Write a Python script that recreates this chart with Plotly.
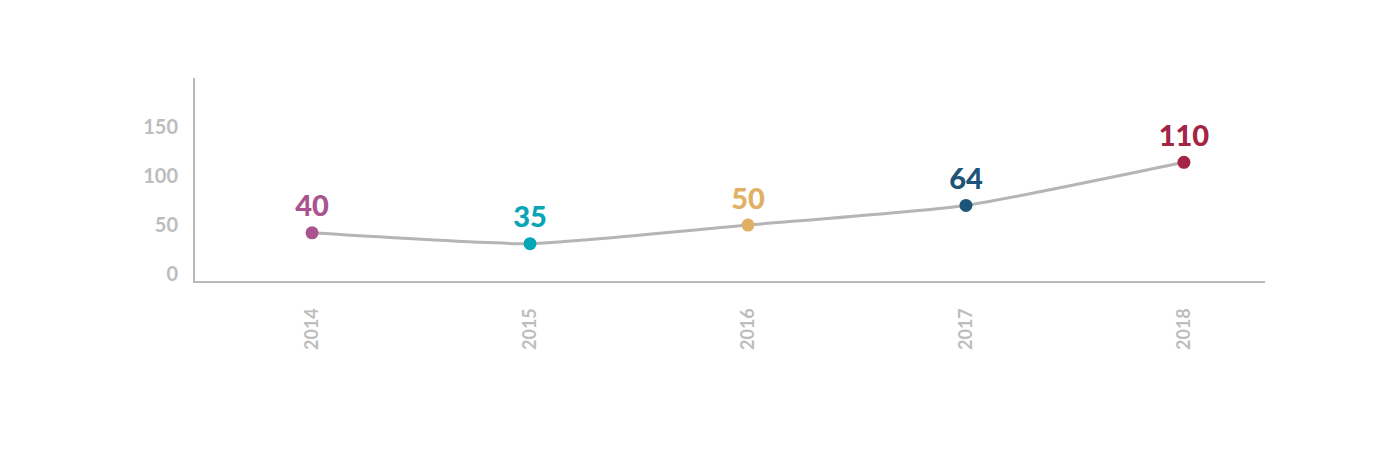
import plotly.graph_objects as go

years = ["2014", "2015", "2016", "2017", "2018"]
values = [42, 31, 50, 70, 114]
labels = ["40", "35", "50", "64", "110"]
colors = ["#a9548f", "#06a6b6", "#e0b064", "#1d5479", "#a32443"]
y_ticks = [0, 50, 100, 150]

fig = go.Figure()
fig.add_trace(go.Scatter(
    x=years, y=values,
    mode="lines",
    line=dict(color="#b5b5b5", width=3, shape="spline", smoothing=0.5),
    hoverinfo="skip", showlegend=False,
))
fig.add_trace(go.Scatter(
    x=years, y=values,
    mode="markers+text",
    marker=dict(color=colors, size=13),
    text=labels,
    textposition="top center",
    textfont=dict(family="Lato", size=29, color=colors, weight=900),
    showlegend=False,
))

fig.update_layout(
    width=1393, height=457,
    margin=dict(l=187, r=136, t=70, b=184),
    paper_bgcolor="white", plot_bgcolor="white",
    xaxis=dict(
        type="category",
        range=[-0.537, 4.372],
        showgrid=False, zeroline=False,
        showline=True, linecolor="#b8b8b8", linewidth=2,
        tickangle=-90,
        ticks="", ticklabelstandoff=18,
        tickfont=dict(family="Lato", size=18, color="#bdbdbd", weight="bold"),
    ),
    yaxis=dict(
        range=[-7.1, 200],
        tickvals=y_ticks,
        showgrid=False, zeroline=False,
        showline=True, linecolor="#b8b8b8", linewidth=2,
        ticks="", ticklabelstandoff=11,
        tickfont=dict(family="Lato", size=20, color="#bdbdbd", weight="bold"),
    ),
)

fig.write_html("out.html")
